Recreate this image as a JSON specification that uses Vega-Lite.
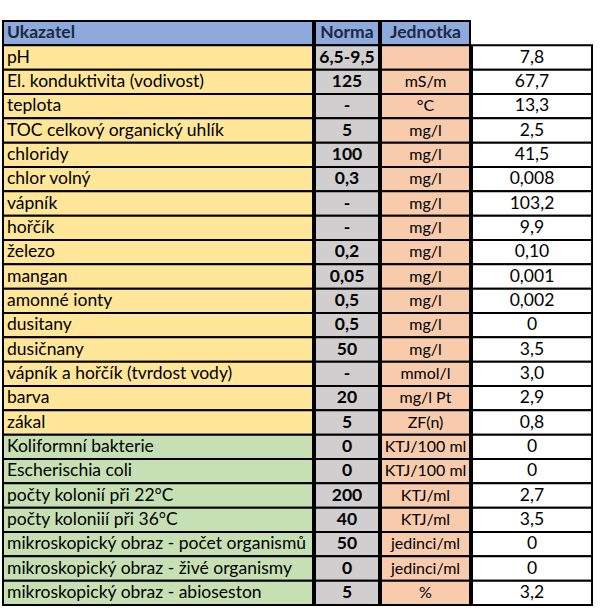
{
  "$schema": "https://vega.github.io/schema/vega-lite/v6.json",
  "padding": {"left": 2, "top": 20, "right": 0, "bottom": 0},
  "background": "white",
  "config": {"view": {"stroke": null}, "concat": {"spacing": 0}, "text": {"font": "Lato", "fontSize": 17.5, "baseline": "middle", "fill": "#000000"}},
  "data": {"values": [
    {"row": 0, "ukazatel": "Ukazatel", "norma": "Norma", "jednotka": "Jednotka", "hodnota": "", "group": "header"},
    {"row": 1, "ukazatel": "pH", "norma": "6,5-9,5", "jednotka": "", "hodnota": "7,8", "group": "chem"},
    {"row": 2, "ukazatel": "El. konduktivita (vodivost)", "norma": "125", "jednotka": "mS/m", "hodnota": "67,7", "group": "chem"},
    {"row": 3, "ukazatel": "teplota", "norma": "-", "jednotka": "°C", "hodnota": "13,3", "group": "chem"},
    {"row": 4, "ukazatel": "TOC celkový organický uhlík", "norma": "5", "jednotka": "mg/l", "hodnota": "2,5", "group": "chem"},
    {"row": 5, "ukazatel": "chloridy", "norma": "100", "jednotka": "mg/l", "hodnota": "41,5", "group": "chem"},
    {"row": 6, "ukazatel": "chlor volný", "norma": "0,3", "jednotka": "mg/l", "hodnota": "0,008", "group": "chem"},
    {"row": 7, "ukazatel": "vápník", "norma": "-", "jednotka": "mg/l", "hodnota": "103,2", "group": "chem"},
    {"row": 8, "ukazatel": "hořčík", "norma": "-", "jednotka": "mg/l", "hodnota": "9,9", "group": "chem"},
    {"row": 9, "ukazatel": "železo", "norma": "0,2", "jednotka": "mg/l", "hodnota": "0,10", "group": "chem"},
    {"row": 10, "ukazatel": "mangan", "norma": "0,05", "jednotka": "mg/l", "hodnota": "0,001", "group": "chem"},
    {"row": 11, "ukazatel": "amonné ionty", "norma": "0,5", "jednotka": "mg/l", "hodnota": "0,002", "group": "chem"},
    {"row": 12, "ukazatel": "dusitany", "norma": "0,5", "jednotka": "mg/l", "hodnota": "0", "group": "chem"},
    {"row": 13, "ukazatel": "dusičnany", "norma": "50", "jednotka": "mg/l", "hodnota": "3,5", "group": "chem"},
    {"row": 14, "ukazatel": "vápník a hořčík (tvrdost vody)", "norma": "-", "jednotka": "mmol/l", "hodnota": "3,0", "group": "chem"},
    {"row": 15, "ukazatel": "barva", "norma": "20", "jednotka": "mg/l Pt", "hodnota": "2,9", "group": "chem"},
    {"row": 16, "ukazatel": "zákal", "norma": "5", "jednotka": "ZF(n)", "hodnota": "0,8", "group": "chem"},
    {"row": 17, "ukazatel": "Koliformní bakterie", "norma": "0", "jednotka": "KTJ/100 ml", "hodnota": "0", "group": "bio"},
    {"row": 18, "ukazatel": "Escherischia coli", "norma": "0", "jednotka": "KTJ/100 ml", "hodnota": "0", "group": "bio"},
    {"row": 19, "ukazatel": "počty kolonií při 22°C", "norma": "200", "jednotka": "KTJ/ml", "hodnota": "2,7", "group": "bio"},
    {"row": 20, "ukazatel": "počty koloniií při 36°C", "norma": "40", "jednotka": "KTJ/ml", "hodnota": "3,5", "group": "bio"},
    {"row": 21, "ukazatel": "mikroskopický obraz - počet organismů", "norma": "50", "jednotka": "jedinci/ml", "hodnota": "0", "group": "bio"},
    {"row": 22, "ukazatel": "mikroskopický obraz - živé organismy", "norma": "0", "jednotka": "jedinci/ml", "hodnota": "0", "group": "bio"},
    {"row": 23, "ukazatel": "mikroskopický obraz - abioseston", "norma": "5", "jednotka": "%", "hodnota": "3,2", "group": "bio"}
  ]},
  "hconcat": [
    {
      "width": 310, "height": 584,
      "encoding": {"y": {"field": "row", "type": "ordinal", "axis": null, "scale": {"paddingInner": 0, "paddingOuter": 0}}},
      "layer": [
        {"mark": {"type": "rect", "stroke": "#000000", "strokeWidth": 2},
         "encoding": {"fill": {"field": "group", "type": "nominal", "legend": null, "scale": {"domain": ["header", "chem", "bio"], "range": ["#8EA9DB", "#FFE699", "#C6E0B4"]}}}},
        {"transform": [{"filter": "datum.row > 0"}],
         "mark": {"type": "text", "align": "left", "fontWeight": "normal"},
         "encoding": {"x": {"value": 4}, "text": {"field": "ukazatel"}}},
        {"transform": [{"filter": "datum.row == 0"}],
         "mark": {"type": "text", "align": "left", "fontWeight": "bold", "fill": "#1c2845"},
         "encoding": {"x": {"value": 4}, "text": {"field": "ukazatel"}}}
      ]
    },
    {
      "width": 64, "height": 584,
      "encoding": {"y": {"field": "row", "type": "ordinal", "axis": null, "scale": {"paddingInner": 0, "paddingOuter": 0}}},
      "layer": [
        {"mark": {"type": "rect", "stroke": "#000000", "strokeWidth": 2},
         "encoding": {"fill": {"condition": {"test": "datum.row == 0", "value": "#8EA9DB"}, "value": "#D0CECE"}}},
        {"transform": [{"filter": "datum.row > 0"}],
         "mark": {"type": "text", "align": "center", "fontWeight": "bold"},
         "encoding": {"x": {"value": 32}, "text": {"field": "norma"}}},
        {"transform": [{"filter": "datum.row == 0"}],
         "mark": {"type": "text", "align": "center", "fontWeight": "bold", "fill": "#1c2845"},
         "encoding": {"x": {"value": 32}, "text": {"field": "norma"}}}
      ]
    },
    {
      "width": 89, "height": 584,
      "encoding": {"y": {"field": "row", "type": "ordinal", "axis": null, "scale": {"paddingInner": 0, "paddingOuter": 0}}},
      "layer": [
        {"mark": {"type": "rect", "stroke": "#000000", "strokeWidth": 2},
         "encoding": {"fill": {"condition": {"test": "datum.row == 0", "value": "#8EA9DB"}, "value": "#F8CBAD"}}},
        {"transform": [{"filter": "datum.row > 0"}],
         "mark": {"type": "text", "align": "center", "fontWeight": "normal", "fontSize": 16},
         "encoding": {"x": {"value": 44.5}, "text": {"field": "jednotka"}}},
        {"transform": [{"filter": "datum.row == 0"}],
         "mark": {"type": "text", "align": "center", "fontWeight": "bold", "fill": "#1c2845"},
         "encoding": {"x": {"value": 44.5}, "text": {"field": "jednotka"}}}
      ]
    },
    {
      "width": 120, "height": 584,
      "encoding": {"y": {"field": "row", "type": "ordinal", "axis": null, "scale": {"paddingInner": 0, "paddingOuter": 0}}},
      "layer": [
        {"transform": [{"filter": "datum.row > 0"}],
         "mark": {"type": "rect", "stroke": "#000000", "strokeWidth": 2, "fill": "white"}},
        {"mark": {"type": "text", "align": "center", "fontWeight": "normal"},
         "encoding": {"x": {"value": 60}, "text": {"field": "hodnota"}}}
      ]
    }
  ]
}
